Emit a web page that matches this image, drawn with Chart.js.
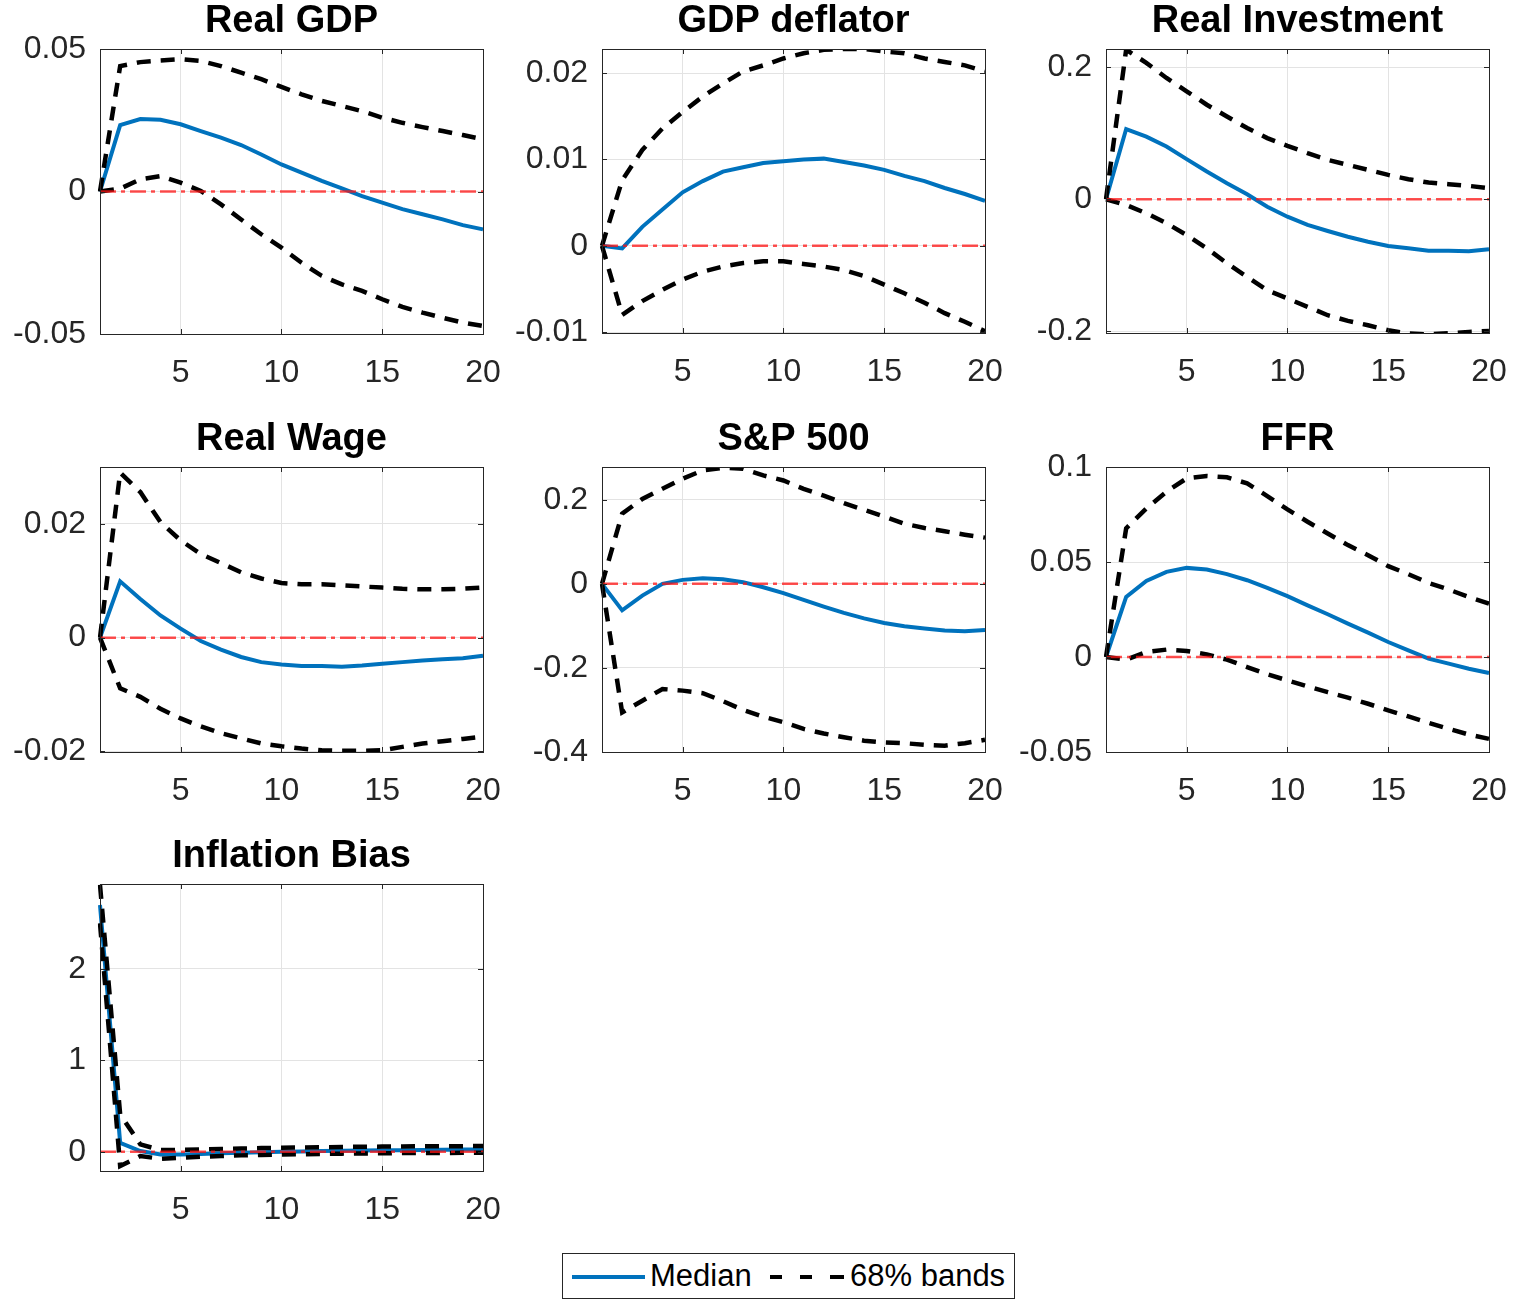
<!DOCTYPE html>
<html>
<head>
<meta charset="utf-8">
<script src="https://cdn.jsdelivr.net/npm/chart.js@4.4.1/dist/chart.umd.min.js"></script>
<style>
    body { margin: 0; background: #fff; }
    #page { position: relative; width: 1526px; height: 1299px; background: #fff; overflow: hidden; }
    #page canvas { position: absolute; }
    #legend {
        position: absolute; left: 562px; top: 1253px; width: 451px; height: 44px;
        border: 1px solid #262626; background: #fff;
        font-family: "Liberation Sans", Arial, sans-serif; font-size: 31px; color: #000;
    }
    #legend .txt { position: absolute; top: 4px; line-height: 36px; }
    #legend .sample { position: absolute; top: 22px; height: 0; }
</style>
</head>
<body>
<div id="page">
    <div id="legend">
        <div class="sample" style="left:9px;width:73px;border-top:4px solid #0072BD;top:21px"></div>
        <div class="txt" style="left:87px">Median</div>
        <div class="sample" style="left:207px;width:12px;border-top:4px solid #000;top:21px"></div>
        <div class="sample" style="left:237px;width:12px;border-top:4px solid #000;top:21px"></div>
        <div class="sample" style="left:267px;width:14px;border-top:4px solid #000;top:21px"></div>
        <div class="txt" style="left:287px">68% bands</div>
    </div>
</div>
<script>
const horizons = [1, 2, 3, 4, 5, 6, 7, 8, 9, 10, 11, 12, 13, 14, 15, 16, 17, 18, 19, 20];
const zeroLine = [0, 0, 0, 0, 0, 0, 0, 0, 0, 0, 0, 0, 0, 0, 0, 0, 0, 0, 0, 0];

// Real GDP
const gdpMedian = [0, 0.0233, 0.0254, 0.0252, 0.0236, 0.0212, 0.0189, 0.0163, 0.0130, 0.0095,
                   0.0066, 0.0037, 0.0011, -0.0016, -0.0039, -0.0062, -0.0080, -0.0098, -0.0118, -0.0133];
const gdpUpper  = [0, 0.0440, 0.0454, 0.0460, 0.0464, 0.0458, 0.0440, 0.0417, 0.0394, 0.0367,
                   0.0341, 0.0318, 0.0300, 0.0282, 0.0259, 0.0241, 0.0226, 0.0212, 0.0198, 0.0183];
const gdpLower  = [0, 0.0010, 0.0043, 0.0054, 0.0031, 0.0002, -0.0045, -0.0098, -0.0150, -0.0197,
                   -0.0250, -0.0296, -0.0326, -0.0349, -0.0378, -0.0405, -0.0425, -0.0443, -0.0460, -0.0472];

// GDP deflator
const deflMedian = [0, -0.0003, 0.0022, 0.0042, 0.0062, 0.0075, 0.0086, 0.0091, 0.0096, 0.0098,
                    0.0100, 0.0101, 0.0097, 0.0093, 0.0088, 0.0081, 0.0075, 0.0067, 0.0060, 0.0052];
const deflUpper  = [0, 0.0076, 0.0111, 0.0136, 0.0155, 0.0173, 0.0188, 0.0202, 0.0209, 0.0217,
                    0.0223, 0.0227, 0.0228, 0.0228, 0.0225, 0.0223, 0.0217, 0.0213, 0.0209, 0.0202];
const deflLower  = [0, -0.0080, -0.0064, -0.0051, -0.0039, -0.0030, -0.0024, -0.0020, -0.0018, -0.0018,
                    -0.0021, -0.0024, -0.0028, -0.0035, -0.0045, -0.0055, -0.0066, -0.0078, -0.0088, -0.0099];

// Real Investment
const invMedian = [0, 0.1065, 0.0950, 0.0800, 0.0608, 0.0420, 0.0243, 0.0076, -0.0113, -0.0265,
                   -0.0390, -0.0482, -0.0569, -0.0645, -0.0710, -0.0745, -0.0780, -0.0780, -0.0790, -0.0760];
const invUpper  = [0, 0.2270, 0.2070, 0.1840, 0.1637, 0.1434, 0.1256, 0.1080, 0.0928, 0.0810,
                   0.0700, 0.0598, 0.0522, 0.0446, 0.0370, 0.0304, 0.0253, 0.0228, 0.0203, 0.0167];
const invLower  = [0, -0.0087, -0.0213, -0.0365, -0.0543, -0.0745, -0.0973, -0.1177, -0.1380, -0.1506,
                   -0.1633, -0.1760, -0.1846, -0.1912, -0.1988, -0.2038, -0.2050, -0.2035, -0.2014, -0.2000];

// Real Wage
const wageMedian = [0, 0.0099, 0.0068, 0.0039, 0.0016, -0.0006, -0.0021, -0.0034, -0.0043, -0.0047,
                    -0.0050, -0.0050, -0.0051, -0.0049, -0.0046, -0.0043, -0.0040, -0.0038, -0.0036, -0.0032];
const wageUpper  = [0, 0.0290, 0.0256, 0.0203, 0.0171, 0.0147, 0.0131, 0.0115, 0.0104, 0.0096,
                    0.0094, 0.0094, 0.0092, 0.0090, 0.0088, 0.0086, 0.0085, 0.0085, 0.0086, 0.0088];
const wageLower  = [0, -0.0089, -0.0104, -0.0125, -0.0142, -0.0156, -0.0168, -0.0177, -0.0186, -0.0191,
                    -0.0195, -0.0198, -0.0199, -0.0199, -0.0198, -0.0192, -0.0186, -0.0182, -0.0178, -0.0174];

// S&P 500
const spMedian = [0, -0.063, -0.028, 0.000, 0.0095, 0.0135, 0.011, 0.004, -0.008, -0.022,
                  -0.038, -0.054, -0.069, -0.082, -0.093, -0.101, -0.106, -0.111, -0.113, -0.110];
const spUpper  = [0, 0.167, 0.202, 0.226, 0.250, 0.270, 0.276, 0.274, 0.258, 0.246,
                  0.226, 0.210, 0.192, 0.176, 0.160, 0.143, 0.133, 0.125, 0.117, 0.110];
const spLower  = [0, -0.306, -0.278, -0.250, -0.254, -0.260, -0.279, -0.300, -0.316, -0.329,
                  -0.345, -0.356, -0.365, -0.373, -0.377, -0.379, -0.383, -0.385, -0.379, -0.371];

// FFR
const ffrMedian = [0, 0.0316, 0.0400, 0.0448, 0.0469, 0.0460, 0.0436, 0.0404, 0.0364, 0.0320,
                   0.0272, 0.0225, 0.0176, 0.0128, 0.0079, 0.0035, -0.0009, -0.0035, -0.0062, -0.0084];
const ffrUpper  = [0, 0.0677, 0.0782, 0.0870, 0.0940, 0.0953, 0.0946, 0.0914, 0.0847, 0.0777,
                   0.0712, 0.0650, 0.0589, 0.0536, 0.0478, 0.0436, 0.0390, 0.0355, 0.0316, 0.0281];
const ffrLower  = [0, -0.0014, 0.0026, 0.0039, 0.0032, 0.0014, -0.0014, -0.0053, -0.0091, -0.0123,
                   -0.0155, -0.0185, -0.0214, -0.0246, -0.0281, -0.0313, -0.0346, -0.0378, -0.0408, -0.0431];

// Inflation Bias
const biasMedian = [2.70, 0.098, 0.007, -0.030, -0.030, -0.025, -0.018, -0.012, -0.006, -0.001,
                    0.003, 0.007, 0.010, 0.013, 0.015, 0.017, 0.019, 0.021, 0.023, 0.025];
const biasUpper  = [2.92, 0.410, 0.080, 0.018, 0.020, 0.025, 0.030, 0.035, 0.040, 0.043,
                    0.046, 0.049, 0.052, 0.054, 0.056, 0.058, 0.059, 0.060, 0.061, 0.062];
const biasLower  = [2.50, -0.157, -0.047, -0.077, -0.066, -0.055, -0.047, -0.040, -0.035, -0.030,
                    -0.027, -0.024, -0.021, -0.019, -0.017, -0.015, -0.014, -0.013, -0.012, -0.011];

const BLUE = '#0072BD';
const GRID = '#e3e3e3';
const AXIS = '#262626';
const FONT = '"Liberation Sans", Arial, Helvetica, sans-serif';

const panels = [
    { title: 'Real GDP',        median: gdpMedian,  upper: gdpUpper,  lower: gdpLower,  min: -0.05,   max: 0.05,   step: 0.05, left: 100,  top: 49,  h: 285 },
    { title: 'GDP deflator',    median: deflMedian, upper: deflUpper, lower: deflLower, min: -0.0101, max: 0.0228, step: 0.01, left: 602,  top: 49,  h: 284 },
    { title: 'Real Investment', median: invMedian,  upper: invUpper,  lower: invLower,  min: -0.203,  max: 0.228,  step: 0.2,  left: 1106, top: 49,  h: 284 },
    { title: 'Real Wage',       median: wageMedian, upper: wageUpper, lower: wageLower, min: -0.0201, max: 0.030,  step: 0.02, left: 100,  top: 467, h: 285 },
    { title: 'S&P 500',         median: spMedian,   upper: spUpper,   lower: spLower,   min: -0.40,   max: 0.278,  step: 0.2,  left: 602,  top: 467, h: 285 },
    { title: 'FFR',             median: ffrMedian,  upper: ffrUpper,  lower: ffrLower,  min: -0.05,   max: 0.10,   step: 0.05, left: 1106, top: 467, h: 285 },
    { title: 'Inflation Bias',  median: biasMedian, upper: biasUpper, lower: biasLower, min: -0.211,  max: 2.93,   step: 1,    left: 100,  top: 884, h: 287 }
];

const PLOT_W = 383;
const Y_W = 100;
const TITLE_H = 49;
const X_H = 55;
const RIGHT_PAD = 30;

function fmt(v) {
    const r = Math.round(v * 1e6) / 1e6;
    return r === 0 ? '0' : String(r);
}

// box round the plot area with short inward ticks, like matlab axes
const boxPlugin = {
    id: 'box',
    afterDatasetsDraw(chart) {
        const { ctx, chartArea: a, scales } = chart;
        ctx.save();
        ctx.strokeStyle = AXIS;
        ctx.lineWidth = 1;
        ctx.beginPath();
        scales.y.ticks.forEach((t, i) => {
            const y = Math.round(scales.y.getPixelForTick(i)) + 0.5;
            ctx.moveTo(a.left, y); ctx.lineTo(a.left + 5, y);
            ctx.moveTo(a.right, y); ctx.lineTo(a.right - 5, y);
        });
        scales.x.ticks.forEach((t, i) => {
            if (horizons[i] % 5 !== 0) return;
            const x = Math.round(scales.x.getPixelForTick(i)) + 0.5;
            ctx.moveTo(x, a.bottom); ctx.lineTo(x, a.bottom - 5);
            ctx.moveTo(x, a.top); ctx.lineTo(x, a.top + 5);
        });
        ctx.stroke();
        ctx.strokeRect(Math.round(a.left) + 0.5, Math.round(a.top) + 0.5,
                       Math.round(a.right - a.left), Math.round(a.bottom - a.top));
        ctx.restore();
    }
};

const page = document.getElementById('page');

panels.forEach(p => {
    const cv = document.createElement('canvas');
    const w = Y_W + PLOT_W + RIGHT_PAD;
    const h = TITLE_H + p.h + X_H;
    cv.width = w;
    cv.height = h;
    cv.style.left = (p.left - Y_W) + 'px';
    cv.style.top = (p.top - TITLE_H) + 'px';
    cv.style.width = w + 'px';
    cv.style.height = h + 'px';
    page.appendChild(cv);

    new Chart(cv.getContext('2d'), {
        type: 'line',
        data: {
            labels: horizons,
            datasets: [
                {
                    label: 'zero',
                    data: zeroLine,
                    borderColor: 'rgba(255, 20, 20, 0.75)',
                    borderWidth: 2.5,
                    borderDash: [16, 5, 4, 5],
                    pointRadius: 0,
                    order: 0
                },
                {
                    label: '68% bands',
                    data: p.upper,
                    borderColor: '#000',
                    borderWidth: 4.5,
                    borderDash: [14, 10],
                    pointRadius: 0,
                    order: 1
                },
                {
                    label: '68% bands lower',
                    data: p.lower,
                    borderColor: '#000',
                    borderWidth: 4.5,
                    borderDash: [14, 10],
                    pointRadius: 0,
                    order: 1
                },
                {
                    label: 'Median',
                    data: p.median,
                    borderColor: BLUE,
                    borderWidth: 4,
                    pointRadius: 0,
                    order: 2
                }
            ]
        },
        options: {
            responsive: false,
            animation: false,
            devicePixelRatio: 1,
            layout: { padding: { left: 0, right: RIGHT_PAD, top: 0, bottom: 0 } },
            plugins: {
                legend: { display: false },
                tooltip: { enabled: false },
                title: {
                    display: true,
                    fullSize: false,
                    text: p.title,
                    color: '#000',
                    font: { family: FONT, size: 38, weight: 'bold', lineHeight: '43px' },
                    padding: { top: 0, bottom: 6 }
                }
            },
            scales: {
                x: {
                    type: 'category',
                    offset: false,
                    border: { display: false },
                    grid: {
                        drawTicks: false,
                        color: ctx => (horizons[ctx.index] % 5 === 0 && horizons[ctx.index] !== 20) ? GRID : 'rgba(0,0,0,0)'
                    },
                    ticks: {
                        autoSkip: false,
                        maxRotation: 0,
                        padding: 20,
                        color: AXIS,
                        font: { family: FONT, size: 32 },
                        callback: (v, i) => horizons[i] % 5 === 0 ? String(horizons[i]) : ''
                    },
                    afterFit: s => { s.height = X_H; s.paddingLeft = 0; s.paddingRight = 0; }
                },
                y: {
                    min: p.min,
                    max: p.max,
                    border: { display: false },
                    grid: { drawTicks: false, color: GRID },
                    ticks: {
                        stepSize: p.step,
                        includeBounds: false,
                        padding: 14,
                        color: AXIS,
                        font: { family: FONT, size: 32 },
                        callback: v => fmt(v)
                    },
                    afterFit: s => { s.width = Y_W; s.paddingTop = 0; s.paddingBottom = 0; }
                }
            }
        },
        plugins: [boxPlugin]
    });
});
</script>
</body>
</html>
